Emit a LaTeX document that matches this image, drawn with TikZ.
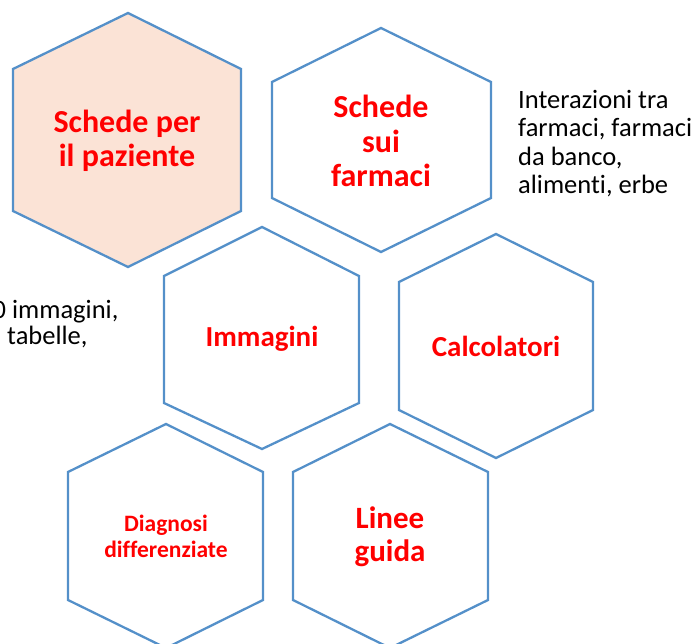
\documentclass[tikz,border=0pt]{standalone}
\usepackage{fontspec}
\setmainfont{Carlito}[Ligatures=NoCommon]
\definecolor{hexline}{RGB}{84,144,201}
\definecolor{hexfill}{RGB}{251,227,214}
\definecolor{labred}{RGB}{255,0,0}
\tikzset{
  hexbox/.style={draw=hexline, line width=2.3pt, line join=miter},
  redlab/.style={text=labred, font=\bfseries\fontsize{32}{34.5}\selectfont, align=center, inner sep=0pt},
  blacklab/.style={text=black, font=\fontsize{26.5}{28.3}\selectfont, align=left, inner sep=0pt},
}
\begin{document}
\begin{tikzpicture}[x=1pt,y=-1pt]
\useasboundingbox (0,0) rectangle (697,644);
\clip (0,0) rectangle (697,644);
% hexagons: top, upper right, lower right, bottom, lower left, upper left
\draw[hexbox, fill=hexfill] (128,13) -- (241,69) -- (241,211) -- (128,267) -- (13,211) -- (13,69) -- cycle;
\draw[hexbox] (381,28) -- (491,82) -- (491,198) -- (381,252) -- (272,198) -- (272,82) -- cycle;
\draw[hexbox] (262,227) -- (359,276) -- (359,403) -- (262,449) -- (164,403) -- (164,276) -- cycle;
\draw[hexbox] (496,234) -- (593,282) -- (593,410) -- (496,458) -- (399,410) -- (399,282) -- cycle;
\draw[hexbox] (166,424) -- (263,472) -- (263,600) -- (166,648) -- (68,600) -- (68,472) -- cycle;
\draw[hexbox] (390,424) -- (488,472) -- (488,600) -- (390,648) -- (293,600) -- (293,472) -- cycle;
% labels
\node[redlab] (paz) at (127,141) {Schede per\\il paziente};
\node[redlab] (farm) at (381,141) {Schede\\sui\\farmaci};
\node[redlab, font=\bfseries\fontsize{29}{34}\selectfont] (imm) at (262,339) {Immagini};
\node[redlab, font=\bfseries\fontsize{29}{34}\selectfont] (calc) at (496,346) {Calcolatori};
\node[redlab, font=\bfseries\fontsize{23.5}{26}\selectfont] (diag) at (166,536) {Diagnosi\\differenziate};
\node[redlab, font=\bfseries\fontsize{31}{33.5}\selectfont] (linee) at (390,537) {Linee\\guida};
% side texts
\node[blacklab, anchor=north west] (inter) at (518,90) {Interazioni tra\\farmaci, farmaci\\da banco,\\alimenti, erbe};
\node[blacklab, anchor=base west] (immtxt) at (-7.5,319) {0 immagini,};
\node[blacklab, anchor=base west] (tabtxt) at (7,345) {tabelle,};
\end{tikzpicture}
\end{document}
